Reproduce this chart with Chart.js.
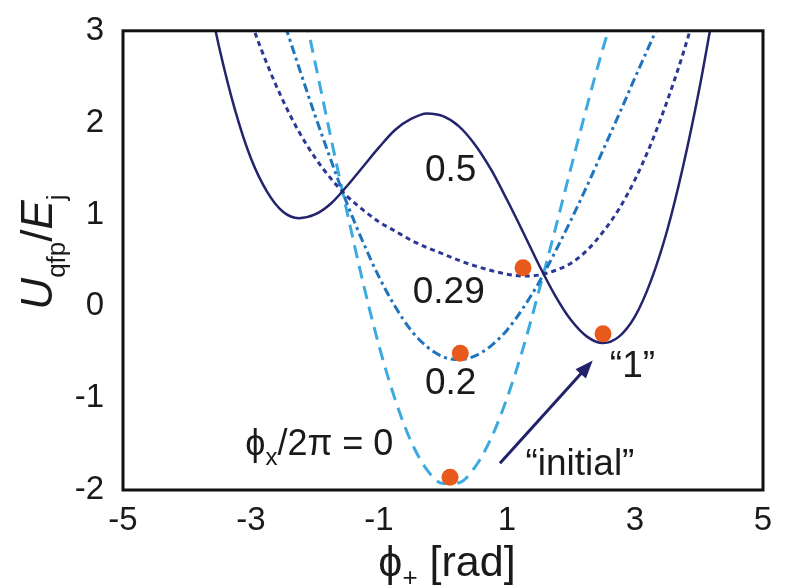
<!DOCTYPE html>
<html>
<head>
<meta charset="utf-8">
<script src="https://cdn.jsdelivr.net/npm/chart.js@4.4.1/dist/chart.umd.min.js"></script>
<style>
  html, body { margin: 0; padding: 0; background: #fff; }
  #wrap { position: relative; width: 786px; height: 585px; }
</style>
</head>
<body>
<div id="wrap"><canvas id="chart"></canvas></div>
<script>
// phase grid (rad) and potential, one array per flux bias
const phi = [-3.75, -3.5, -3.25, -3, -2.75, -2.5, -2.25, -2, -1.75, -1.5, -1.25, -1, -0.75, -0.5, -0.25, 0,
  0.25, 0.5, 0.75, 1, 1.25, 1.5, 1.75, 2, 2.25, 2.5, 2.75, 3, 3.25, 3.5, 3.75, 4, 4.25];

const u05 = [3.67, 2.83, 2.14, 1.61, 1.25, 1.03, 0.96, 1.00, 1.12, 1.31, 1.52, 1.73, 1.92, 2.04, 2.10, 2.07,
  1.96, 1.76, 1.49, 1.16, 0.81, 0.45, 0.12, -0.15, -0.33, -0.40, -0.33, -0.11, 0.28, 0.82, 1.52, 2.35, 3.31];

const u029 = [null, null, 3.63, 3.10, 2.64, 2.24, 1.90, 1.62, 1.39, 1.20, 1.05, 0.92, 0.82, 0.72, 0.64, 0.57,
  0.50, 0.44, 0.39, 0.35, 0.33, 0.34, 0.39, 0.47, 0.61, 0.81, 1.06, 1.38, 1.77, 2.23, 2.75, 3.34, null];

const u02 = [null, null, null, null, 3.67, 3.13, 2.60, 2.08, 1.59, 1.12, 0.70, 0.32, 0.00, -0.26, -0.44, -0.55,
  -0.58, -0.54, -0.43, -0.26, -0.02, 0.26, 0.59, 0.94, 1.31, 1.70, 2.09, 2.49, 2.88, 3.27, null, null, null];

const u0 = [null, null, null, null, null, 4.24, 3.47, 2.66, 1.83, 1.03, 0.26, -0.43, -1.01, -1.47, -1.78, -1.93,
  -1.92, -1.75, -1.44, -1.00, -0.46, 0.17, 0.83, 1.51, 2.18, 2.81, 3.37, null, null, null, null, null, null];

// orange markers (state positions)
const stateX = [1.25, 0.27, 2.5, 0.11];
const stateY = [0.42, -0.51, -0.30, -1.86];

const xTicks = [-5, -3, -1, 1, 3, 5];
const yTicks = [-2, -1, 0, 1, 2, 3];

const FONT = '"Liberation Sans", Arial, Helvetica, sans-serif';

function pts(ys) {
  return phi.map((x, i) => ({ x: x, y: ys[i] }));
}

function curve(label, ys, color, dash, width) {
  return {
    label: label,
    data: pts(ys),
    borderColor: color,
    borderWidth: width,
    borderDash: dash,
    pointRadius: 0,
    fill: false,
    cubicInterpolationMode: "monotone",
    spanGaps: false,
  };
}

// text labels inside the plot
const notes = [
  { text: "0.5", x: 0.12, y: 1.36 },
  { text: "0.29", x: 0.09, y: 0.04 },
  { text: "0.2", x: 0.12, y: -0.95 },
  { text: "\u201C1\u201D", x: 2.96, y: -0.77 },
  { text: "\u201Cinitial\u201D", x: 2.14, y: -1.84 },
];

function drawRuns(ctx, runs, x0, y) {
  let x = x0;
  runs.forEach((r) => {
    ctx.font = r.font;
    ctx.fillText(r.t, x, y + (r.dy || 0));
    x += ctx.measureText(r.t).width;
  });
}

function runsWidth(ctx, runs) {
  let w = 0;
  runs.forEach((r) => {
    ctx.font = r.font;
    w += ctx.measureText(r.t).width;
  });
  return w;
}

const decor = {
  id: "decor",
  afterDatasetsDraw(chart) {
    const ctx = chart.ctx;
    const a = chart.chartArea;
    const xs = chart.scales.x;
    const ys = chart.scales.y;

    ctx.save();
    // frame
    ctx.strokeStyle = "#111";
    ctx.lineWidth = 3;
    ctx.strokeRect(a.left, a.top, a.right - a.left, a.bottom - a.top);

    // arrow "initial" -> "1"
    const x1 = xs.getPixelForValue(0.89), y1 = ys.getPixelForValue(-1.71);
    const x2 = xs.getPixelForValue(2.34), y2 = ys.getPixelForValue(-0.59);
    const ang = Math.atan2(y2 - y1, x2 - x1);
    const head = 18;
    ctx.strokeStyle = "#22226a";
    ctx.fillStyle = "#22226a";
    ctx.lineWidth = 3;
    ctx.beginPath();
    ctx.moveTo(x1, y1);
    ctx.lineTo(x2 - Math.cos(ang) * head * 0.8, y2 - Math.sin(ang) * head * 0.8);
    ctx.stroke();
    ctx.beginPath();
    ctx.moveTo(x2, y2);
    ctx.lineTo(x2 - Math.cos(ang) * head + Math.sin(ang) * 7, y2 - Math.sin(ang) * head - Math.cos(ang) * 7);
    ctx.lineTo(x2 - Math.cos(ang) * head - Math.sin(ang) * 7, y2 - Math.sin(ang) * head + Math.cos(ang) * 7);
    ctx.closePath();
    ctx.fill();

    // annotations
    ctx.fillStyle = "#1a1a1a";
    ctx.textBaseline = "alphabetic";
    ctx.textAlign = "center";
    ctx.font = "37px " + FONT;
    notes.forEach((n) => {
      ctx.fillText(n.text, xs.getPixelForValue(n.x), ys.getPixelForValue(n.y));
    });

    ctx.textAlign = "left";
    drawRuns(ctx, [
      { t: "\u03D5", font: "36px " + FONT },
      { t: "x", font: "24px " + FONT, dy: 10 },
      { t: "/2\u03C0 = 0", font: "36px " + FONT },
    ], xs.getPixelForValue(-3.09), ys.getPixelForValue(-1.62));

    // x axis title
    const xRuns = [
      { t: "\u03D5", font: "43px " + FONT },
      { t: "+", font: "26px " + FONT, dy: 10 },
      { t: " [rad]", font: "43px " + FONT },
    ];
    const xw = runsWidth(ctx, xRuns);
    drawRuns(ctx, xRuns, (a.left + a.right) / 2 + 4 - xw / 2, 576);

    // y axis title
    const yRuns = [
      { t: "U", font: "italic 44px " + FONT },
      { t: "qfp", font: "26px " + FONT, dy: 13 },
      { t: "/", font: "44px " + FONT },
      { t: "E", font: "italic 44px " + FONT },
      { t: "j", font: "26px " + FONT, dy: 13 },
    ];
    const yw = runsWidth(ctx, yRuns);
    ctx.translate(52, 252);
    ctx.rotate(-Math.PI / 2);
    drawRuns(ctx, yRuns, -yw / 2, 0);
    ctx.restore();
  },
};

const tickFont = { family: FONT, size: 33 };

new Chart(document.getElementById("chart").getContext("2d"), {
  type: "line",
  data: {
    datasets: [
      {
        label: "states",
        data: stateX.map((x, i) => ({ x: x, y: stateY[i] })),
        showLine: false,
        pointRadius: 8.5,
        pointHoverRadius: 8.5,
        pointBackgroundColor: "#e8591c",
        pointBorderWidth: 0,
      },
      curve("0.5", u05, "#24246c", [], 2.5),
      curve("0.29", u029, "#2c3894", [5, 4], 3),
      curve("0.2", u02, "#1f74bd", [9, 4, 3, 4], 3),
      curve("0", u0, "#3caae0", [13, 8], 3),
    ],
  },
  options: {
    responsive: true,
    maintainAspectRatio: false,
    animation: false,
    layout: { padding: { top: 28, right: 23, left: 0, bottom: 0 } },
    plugins: {
      legend: { display: false },
      tooltip: { enabled: false },
    },
    scales: {
      x: {
        type: "linear",
        min: -5,
        max: 5,
        grid: { display: false },
        border: { display: false },
        afterBuildTicks: (scale) => {
          scale.ticks = xTicks.map((v) => ({ value: v }));
        },
        afterFit: (scale) => {
          scale.height = 95;
        },
        ticks: { color: "#1a1a1a", font: tickFont, padding: 3, maxRotation: 0 },
      },
      y: {
        type: "linear",
        min: -2,
        max: 3,
        grid: { display: false },
        border: { display: false },
        afterBuildTicks: (scale) => {
          scale.ticks = yTicks.map((v) => ({ value: v }));
        },
        afterFit: (scale) => {
          scale.width = 123;
        },
        ticks: { color: "#1a1a1a", font: tickFont, padding: 11 },
      },
    },
  },
  plugins: [decor],
});
</script>
</body>
</html>
